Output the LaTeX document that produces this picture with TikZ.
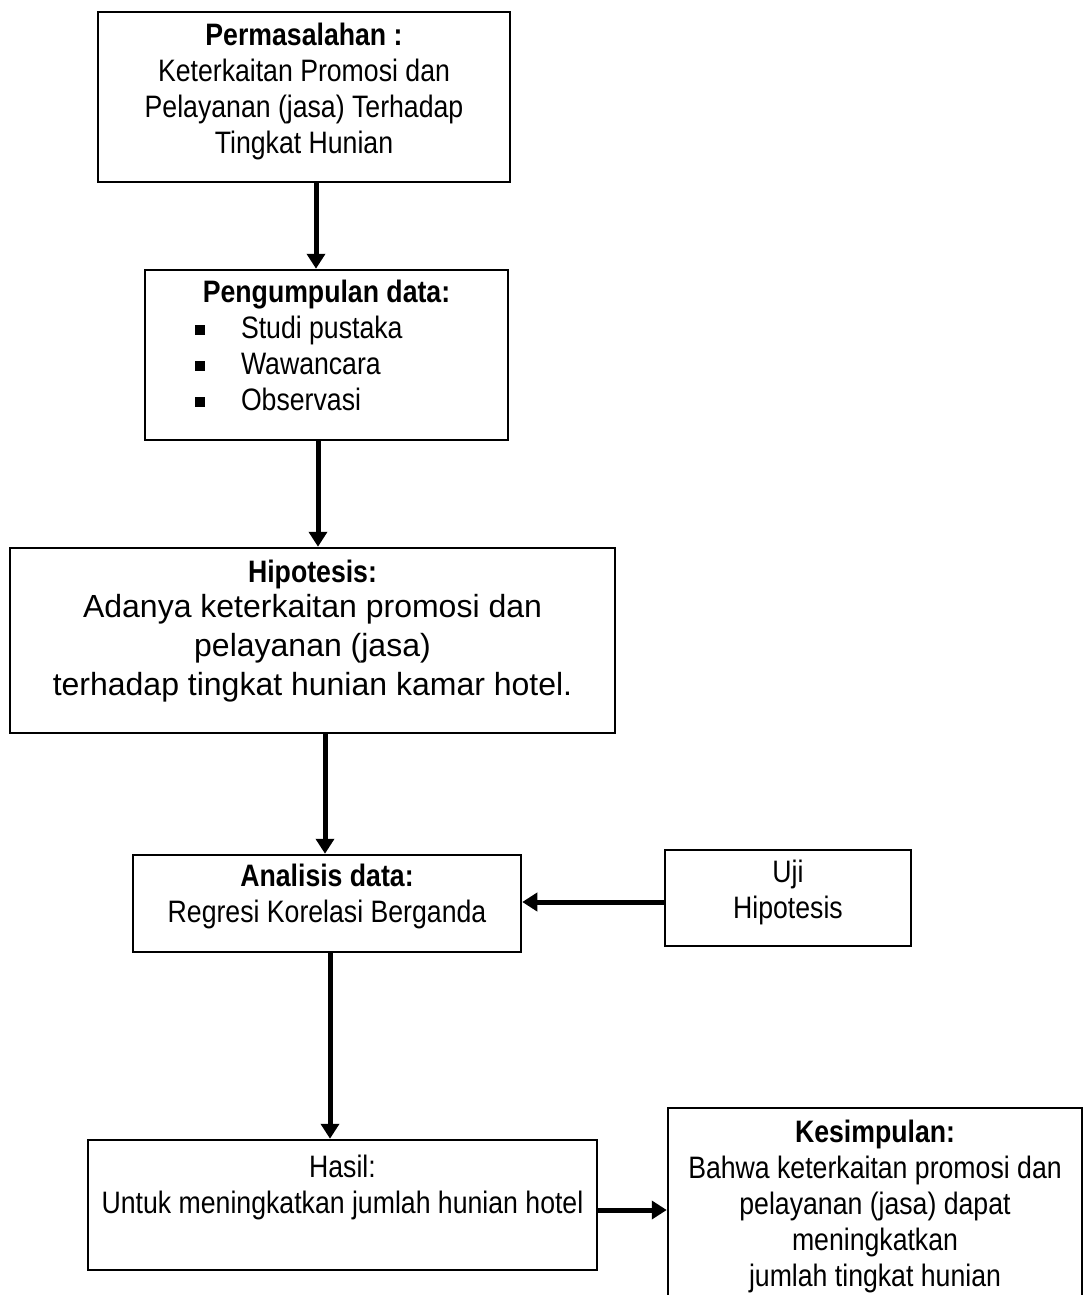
\documentclass[tikz,border=0pt]{standalone}
\usepackage{fontspec}
\setmainfont{Liberation Sans}
\newfontfamily\narrowsf[FakeStretch=0.86]{Liberation Sans}
\usepackage{tikz}
\usetikzlibrary{arrows.meta,positioning,calc}
\newcommand{\boxtxt}[4]{\parbox[c][#2][t]{#1}{\centering\vspace*{#3}#4\par}}
\newcommand{\sqbullet}{\rule[3.5pt]{10pt}{10pt}}

\begin{document}
\begin{tikzpicture}[
  x=1pt, y=-1pt,
  box/.style={draw, line width=2.5pt, inner sep=0pt, fill=white,
    font=\narrowsf\fontsize{31}{36}\selectfont},
  arr/.style={-{Triangle[length=15pt,width=18pt]}, line width=5pt}
]
\useasboundingbox[fill=white] (0,0) rectangle (1084,1295);
\node[box] (masalah) at (304,97) {\boxtxt{412pt}{170pt}{11pt}{%
  \textbf{Permasalahan :}\\
  Keterkaitan Promosi dan\\
  Pelayanan (jasa) Terhadap\\
  Tingkat Hunian}};
\node[box] (kumpul) at (326.5,355) {\boxtxt{363pt}{170pt}{10pt}{%
  \textbf{Pengumpulan data:}\\
  \makebox[363pt][l]{\hspace*{50pt}\sqbullet\hspace{36pt}Studi pustaka}\\
  \makebox[363pt][l]{\hspace*{50pt}\sqbullet\hspace{36pt}Wawancara}\\
  \makebox[363pt][l]{\hspace*{50pt}\sqbullet\hspace{36pt}Observasi}}};
\node[box, font=\fontsize{32}{39}\selectfont] (hipo) at (312.5,640.5) {\boxtxt{605pt}{185pt}{12pt}{%
  {\narrowsf\bfseries\fontsize{31}{36}\selectfont Hipotesis:}\\[-4pt]
  Adanya keterkaitan promosi dan\\
  pelayanan (jasa)\\
  terhadap tingkat hunian kamar hotel.}};
\node[box] (analisis) at (327,903.5) {\boxtxt{388pt}{97pt}{9pt}{%
  \textbf{Analisis data:}\\
  Regresi Korelasi Berganda}};
\node[box] (uji) at (788,898) {\boxtxt{246pt}{96pt}{10pt}{%
  Uji\\
  Hipotesis}};
\node[box] (hasil) at (342.5,1205) {\boxtxt{509pt}{130pt}{15pt}{%
  Hasil:\\
  Untuk meningkatkan jumlah hunian hotel}};
\node[box] (simpul) at (875,1208) {\boxtxt{414pt}{200pt}{12pt}{%
  \textbf{Kesimpulan:}\\
  Bahwa keterkaitan promosi dan\\
  pelayanan (jasa) dapat\\
  meningkatkan\\
  jumlah tingkat hunian}};
\draw[arr] (masalah.south -| 316,0) -- (kumpul.north -| 316,0);
\draw[arr] (kumpul.south -| 318,0) -- (hipo.north -| 318,0);
\draw[arr] (hipo.south -| 325,0) -- (analisis.north -| 325,0);
\draw[arr] (analisis.south -| 330,0) -- (hasil.north -| 330,0);
\draw[arr] (uji.west |- 0,902) -- (analisis.east |- 0,902);
\draw[arr] (hasil.east |- 0,1210) -- (simpul.west |- 0,1210);
\end{tikzpicture}
\end{document}
